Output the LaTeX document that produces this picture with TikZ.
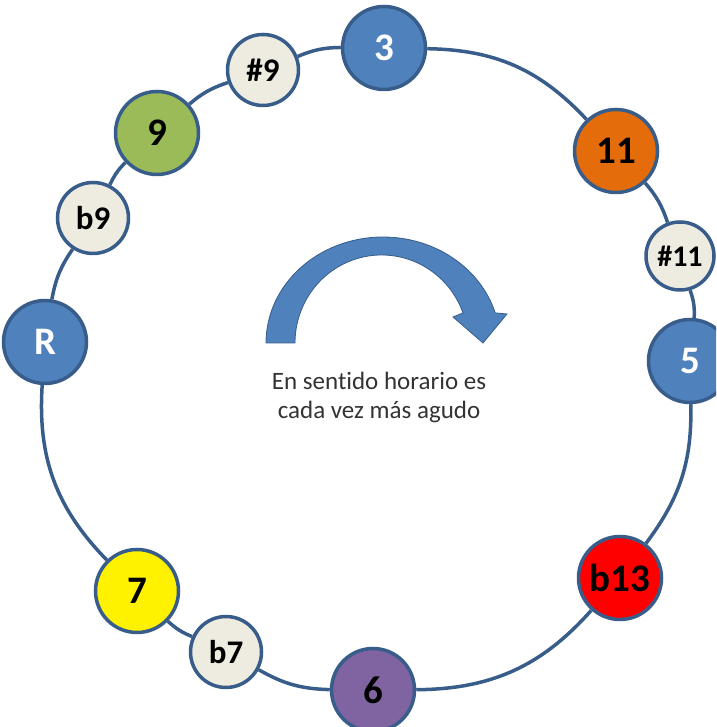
\documentclass[tikz,border=0pt]{standalone}
\usepackage{fontspec}
\setmainfont{Carlito}[Ligatures=NoCommon]
\usetikzlibrary{calc}
\definecolor{ringcol}{HTML}{385D8A}
\definecolor{bluefill}{HTML}{4F81BD}
\definecolor{palefill}{HTML}{EEECE1}
\definecolor{greenfill}{HTML}{9BBB59}
\definecolor{orangefill}{HTML}{E46C0A}
\definecolor{purplefill}{HTML}{8064A2}

\begin{document}
\begin{tikzpicture}[
  x=1pt, y=1pt,
  note/.style={circle, draw=ringcol, line width=3.5pt, inner sep=0pt,
    minimum size=83pt, font=\bfseries\fontsize{39}{39}\selectfont},
  small/.style={note, minimum size=71pt, fill=palefill,
    font=\bfseries\fontsize{33}{33}\selectfont},
  main/.style={note, fill=bluefill, text=white},
  ring/.style={draw=ringcol, line width=3.5pt}
]
  \useasboundingbox (0,0) rectangle (716,727);
  \clip (0,0) rectangle (716,727);
  \node[main] (R) at (45,385) {R};
  \node[small] (b9) at (93,509) {b9};
  \node[note, fill=greenfill] (n9) at (157,594) {9};
  \node[small] (s9) at (263,657) {\#9};
  \node[main] (n3) at (384,679) {3};
  \node[note, fill=orangefill] (n11) at (616,576) {11};
  \node[small, minimum size=68pt, font=\bfseries\fontsize{30}{30}\selectfont]
    (s11) at (680,471) {\#11};
  \node[main] (n5) at (690,366) {5};
  \node[note, fill=red] (b13) at (620,149) {b13};
  \node[note, fill=purplefill] (n6) at (373,37) {6};
  \node[small] (b7) at (226,75) {b7};
  \node[note, fill=yellow] (n7) at (137,136) {7};
  \draw[ring] (R) to[bend left=12] (b9);
  \draw[ring] (b9) to[bend left=10] (n9);
  \draw[ring] (n9) to[bend left=11] (s9);
  \draw[ring] (s9) to[bend left=11] (n3);
  \draw[ring] (n3) to[bend left=23] (n11);
  \draw[ring] (n11) to[bend left=11] (s11);
  \draw[ring] (s11) to[bend left=11] (n5);
  \draw[ring] (n5) to[bend left=19] (b13);
  \draw[ring] (b13) to[bend left=24] (n6);
  \draw[ring] (n6) to[bend left=14] (b7);
  \draw[ring] (b7) to[bend left=10] (n7);
  \draw[ring] (n7) to[bend left=24] (R);
  \coordinate (oc) at (383,384);
  \coordinate (ic) at (381.6,384);
  \filldraw[fill=bluefill, draw=ringcol, line width=0.8pt]
    ($(oc)+(180:117 and 106)$)
    arc[start angle=180, end angle=16.5, x radius=117, y radius=106]
    -- (507,413) -- (483,384) -- (453,410)
    -- ($(ic)+(20:86.6 and 88)$)
    arc[start angle=20, end angle=180, x radius=86.6, y radius=88] -- cycle;
  \node[align=center, text=black!80, font=\fontsize{25}{29}\selectfont]
    (caption) at (379,330) {En sentido horario es\\cada vez más agudo};
\end{tikzpicture}
\end{document}
